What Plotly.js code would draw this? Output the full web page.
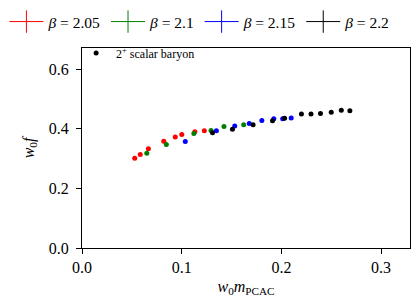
<!DOCTYPE html>
<html>
<head>
<meta charset="utf-8">
<script src="https://cdn.plot.ly/plotly-3.0.1.min.js"></script>
<style>html,body{margin:0;padding:0;background:#fff;}#chart{width:415px;height:297px;}</style>
</head>
<body>
<div id="chart"></div>
<script>
// beta = 2.05
const x205 = [0.0529, 0.0584, 0.0666, 0.0820, 0.0935, 0.1001, 0.1132, 0.1227];
const y205 = [0.3011, 0.3138, 0.3329, 0.3583, 0.3720, 0.3806, 0.3901, 0.3933];
// beta = 2.1
const x210 = [0.0650, 0.0846, 0.1122, 0.1294, 0.1424, 0.1622];
const y210 = [0.3180, 0.3475, 0.3838, 0.3943, 0.4079, 0.4134];
// beta = 2.15
const x215 = [0.1036, 0.1348, 0.1532, 0.1678, 0.1804, 0.1924, 0.2013, 0.2098];
const y215 = [0.3571, 0.3936, 0.4092, 0.4181, 0.4277, 0.4340, 0.4340, 0.4362];
// beta = 2.2
const x220 = [0.1309, 0.1509, 0.1716, 0.1911, 0.2032, 0.2201, 0.2297, 0.2392, 0.2500, 0.2601, 0.2687];
const y220 = [0.3863, 0.3984, 0.4134, 0.4267, 0.4350, 0.4499, 0.4499, 0.4515, 0.4556, 0.4620, 0.4601];

const betaLabels = ['2.05', '2.1', '2.15', '2.2'];
const seriesLabel = '2<sup>+</sup> scalar baryon';
const xTitle = '<i>w</i><sub>0</sub><i>m</i><sub>PCAC</sub>';
const yTitle = '<i>w</i><sub>0</sub><i>f</i>';
const xTicks = [0, 0.1, 0.2, 0.3];
const yTicks = [0, 0.2, 0.4, 0.6];

const xs = [x205, x210, x215, x220];
const ys = [y205, y210, y215, y220];
const colors = ['#ff0000', '#008000', '#0000ff', '#000000'];

const FONT = 'Liberation Serif, DejaVu Serif, serif';
const traces = [];
for (let i = 0; i < 4; i++) {
  traces.push({
    x: xs[i], y: ys[i], type: 'scatter', mode: 'markers',
    marker: {color: colors[i], size: 5},
    showlegend: false, hoverinfo: 'skip'
  });
}
for (let i = 0; i < 4; i++) {
  traces.push({
    x: [null], y: [null], type: 'scatter', mode: 'lines+markers',
    name: '<i>β</i> = ' + betaLabels[i],
    line: {color: colors[i], width: 1},
    marker: {symbol: 'line-ns-open', size: 17, color: colors[i], line: {color: colors[i], width: 1}},
    legend: 'legend'
  });
}
traces.push({
  x: [null], y: [null], type: 'scatter', mode: 'markers',
  name: seriesLabel, marker: {color: '#000', size: 5}, legend: 'legend2'
});

const axisCommon = {
  showgrid: false, zeroline: false, showline: true, mirror: true,
  linecolor: '#000', linewidth: 1, ticks: 'outside', ticklen: 5, tickwidth: 1,
  tickcolor: '#000', tickfont: {family: FONT, size: 16, color: '#000'},
  tickformat: '.1f'
};

const layout = {
  width: 415, height: 297,
  margin: {l: 76, r: 5, t: 37, b: 49},
  paper_bgcolor: '#fff', plot_bgcolor: '#fff',
  font: {family: FONT, color: '#000', size: 16},
  xaxis: Object.assign({}, axisCommon, {
    range: [0, 0.329], tickvals: xTicks,
    title: {text: xTitle, font: {family: FONT, size: 16}, standoff: 8}
  }),
  yaxis: Object.assign({}, axisCommon, {
    range: [0, 0.671], tickvals: yTicks, ticklabelstandoff: 4,
    title: {text: yTitle, font: {family: FONT, size: 16}, standoff: 10}
  }),
  legend: {
    orientation: 'h', x: -0.2365, xanchor: 'left', y: 1.13, yanchor: 'middle',
    font: {family: FONT, size: 15.5, color: '#000'}, bgcolor: 'rgba(0,0,0,0)',
    borderwidth: 0, itemwidth: 34, tracegroupgap: 0
  },
  legend2: {
    x: -0.018, xanchor: 'left', y: 1.047, yanchor: 'top',
    font: {family: FONT, size: 12, color: '#000'}, bgcolor: 'rgba(0,0,0,0)',
    borderwidth: 0
  }
};

Plotly.newPlot('chart', traces, layout, {displayModeBar: false, staticPlot: true});
</script>
</body>
</html>
